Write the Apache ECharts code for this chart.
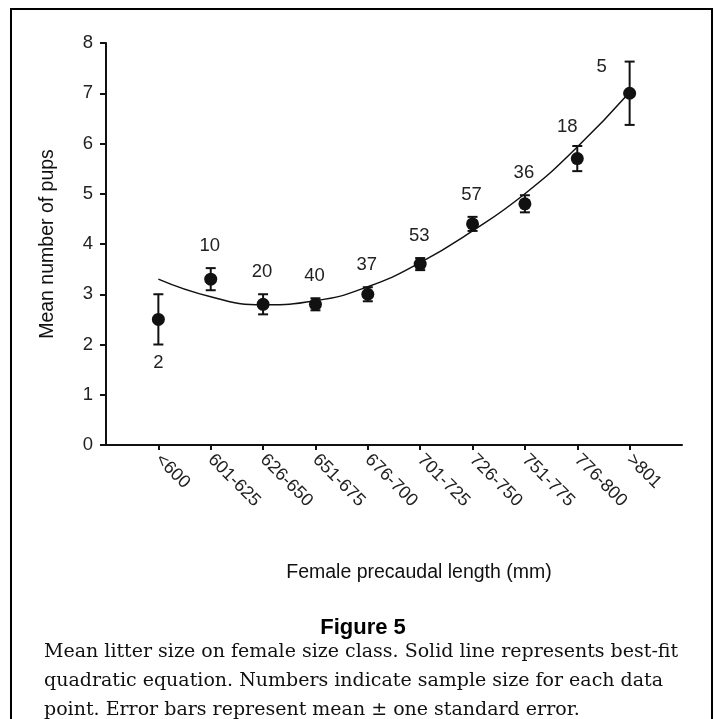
<!DOCTYPE html>
<html>
<head>
<meta charset="utf-8">
<script src="https://cdn.jsdelivr.net/npm/echarts@6/dist/echarts.min.js"></script>
<style>
  html, body { margin: 0; padding: 0; background: #fff; }
  #chart { width: 715px; height: 719px; }
</style>
</head>
<body>
<div id="chart"></div>
<script>
const categories = ['<600', '601-625', '626-650', '651-675', '676-700', '701-725', '726-750', '751-775', '776-800', '>801']
const sampleSizes = [2, 10, 20, 40, 37, 53, 57, 36, 18, 5]
const meanPups = [2.5, 3.3, 2.8, 2.8, 3.0, 3.6, 4.4, 4.8, 5.7, 7.0]
const stdError = [0.5, 0.22, 0.2, 0.12, 0.14, 0.12, 0.14, 0.17, 0.25, 0.63]
const fitCurve = [3.30, 2.95, 2.79, 2.87, 3.15, 3.63, 4.26, 5.00, 5.93, 7.02]
const yTicks = [0, 1, 2, 3, 4, 5, 6, 7, 8]

const captionLines = [
  'Mean litter size on female size class. Solid line represents best-fit',
  'quadratic equation. Numbers indicate sample size for each data',
  'point. Error bars represent mean \u00b1 one standard error.'
]

const sans = '"Liberation Sans", Arial, Helvetica, sans-serif'
const ink = '#111'

// where the sample size sits relative to the top of its error bar
const labelShift = (i) => {
  if (i === 0) return null // drawn below the bar
  if (i === 8) return [-10, -19]
  if (i === 9) return [-28, 5]
  return [-1, -22]
}

const chart = echarts.init(document.getElementById('chart'))

chart.setOption({
  animation: false,
  backgroundColor: '#fff',
  grid: { left: 106, right: 33, top: 43, bottom: 274 },
  xAxis: {
    type: 'value',
    min: -1,
    max: 10,
    interval: 1,
    splitLine: { show: false },
    axisLine: { show: true, onZero: false, lineStyle: { color: ink, width: 2 } },
    axisTick: { show: true, customValues: categories.map((c, i) => i), length: 5, lineStyle: { color: ink, width: 2 } },
    axisLabel: {
      customValues: categories.map((c, i) => i),
      formatter: (v) => categories[Math.round(v)] || '',
      rotate: -45,
      margin: 12,
      fontFamily: sans,
      fontSize: 18,
      color: '#222'
    },
    name: 'Female precaudal length (mm)',
    nameLocation: 'middle',
    nameGap: 118,
    nameTextStyle: { fontFamily: sans, fontSize: 19.5, color: '#111', padding: [0, 0, 0, 50] }
  },
  yAxis: {
    type: 'value',
    min: yTicks[0],
    max: yTicks[yTicks.length - 1],
    interval: 1,
    splitLine: { show: false },
    axisLine: { show: true, onZero: false, lineStyle: { color: ink, width: 2 } },
    axisTick: { show: true, length: 6, lineStyle: { color: ink, width: 2 } },
    axisLabel: { margin: 13, fontFamily: sans, fontSize: 18.5, color: '#222' },
    name: 'Mean number of pups',
    nameLocation: 'middle',
    nameGap: 48,
    nameTextStyle: { fontFamily: sans, fontSize: 19.5, color: '#111' }
  },
  graphic: [
    {
      type: 'rect',
      shape: { x: 11, y: 9, width: 701, height: 730 },
      style: { fill: 'none', stroke: '#000', lineWidth: 2 },
      silent: true
    },
    {
      type: 'text',
      x: 363,
      y: 628,
      style: {
        text: 'Figure 5',
        font: 'bold 22px ' + sans,
        fill: '#000',
        textAlign: 'center',
        textVerticalAlign: 'middle'
      }
    },
    ...captionLines.map((line, k) => ({
      type: 'text',
      x: 44,
      y: 652 + k * 29,
      style: {
        text: line,
        font: '19px "DejaVu Serif", serif',
        fill: '#111',
        textAlign: 'left',
        textVerticalAlign: 'middle'
      }
    }))
  ],
  series: [
    {
      name: 'fit',
      type: 'line',
      data: fitCurve.map((v, i) => [i, v]),
      smooth: 0.5,
      showSymbol: false,
      lineStyle: { color: ink, width: 1.5 },
      z: 2
    },
    {
      name: 'error',
      type: 'custom',
      data: meanPups.map((m, i) => [i, m, stdError[i], sampleSizes[i]]),
      encode: { x: 0, y: 1 },
      renderItem: (params, api) => {
        const i = api.value(0)
        const m = api.value(1)
        const se = api.value(2)
        const n = api.value(3)
        const top = api.coord([i, m + se])
        const bot = api.coord([i, m - se])
        const cap = 5
        const st = { stroke: ink, lineWidth: 2 }
        const shift = labelShift(i)
        const tx = shift ? top[0] + shift[0] : bot[0]
        const ty = shift ? top[1] + shift[1] : bot[1] + 18
        return {
          type: 'group',
          children: [
            { type: 'line', shape: { x1: top[0], y1: top[1], x2: bot[0], y2: bot[1] }, style: st },
            { type: 'line', shape: { x1: top[0] - cap, y1: top[1], x2: top[0] + cap, y2: top[1] }, style: st },
            { type: 'line', shape: { x1: bot[0] - cap, y1: bot[1], x2: bot[0] + cap, y2: bot[1] }, style: st },
            {
              type: 'text',
              style: {
                text: String(n),
                x: tx,
                y: ty,
                textAlign: 'center',
                textVerticalAlign: 'middle',
                font: '18.5px ' + sans,
                fill: '#222'
              }
            }
          ]
        }
      },
      z: 3
    },
    {
      name: 'mean',
      type: 'scatter',
      data: meanPups.map((m, i) => [i, m]),
      symbol: 'circle',
      symbolSize: 13,
      itemStyle: { color: ink, opacity: 1 },
      z: 4
    }
  ]
})
</script>
</body>
</html>
